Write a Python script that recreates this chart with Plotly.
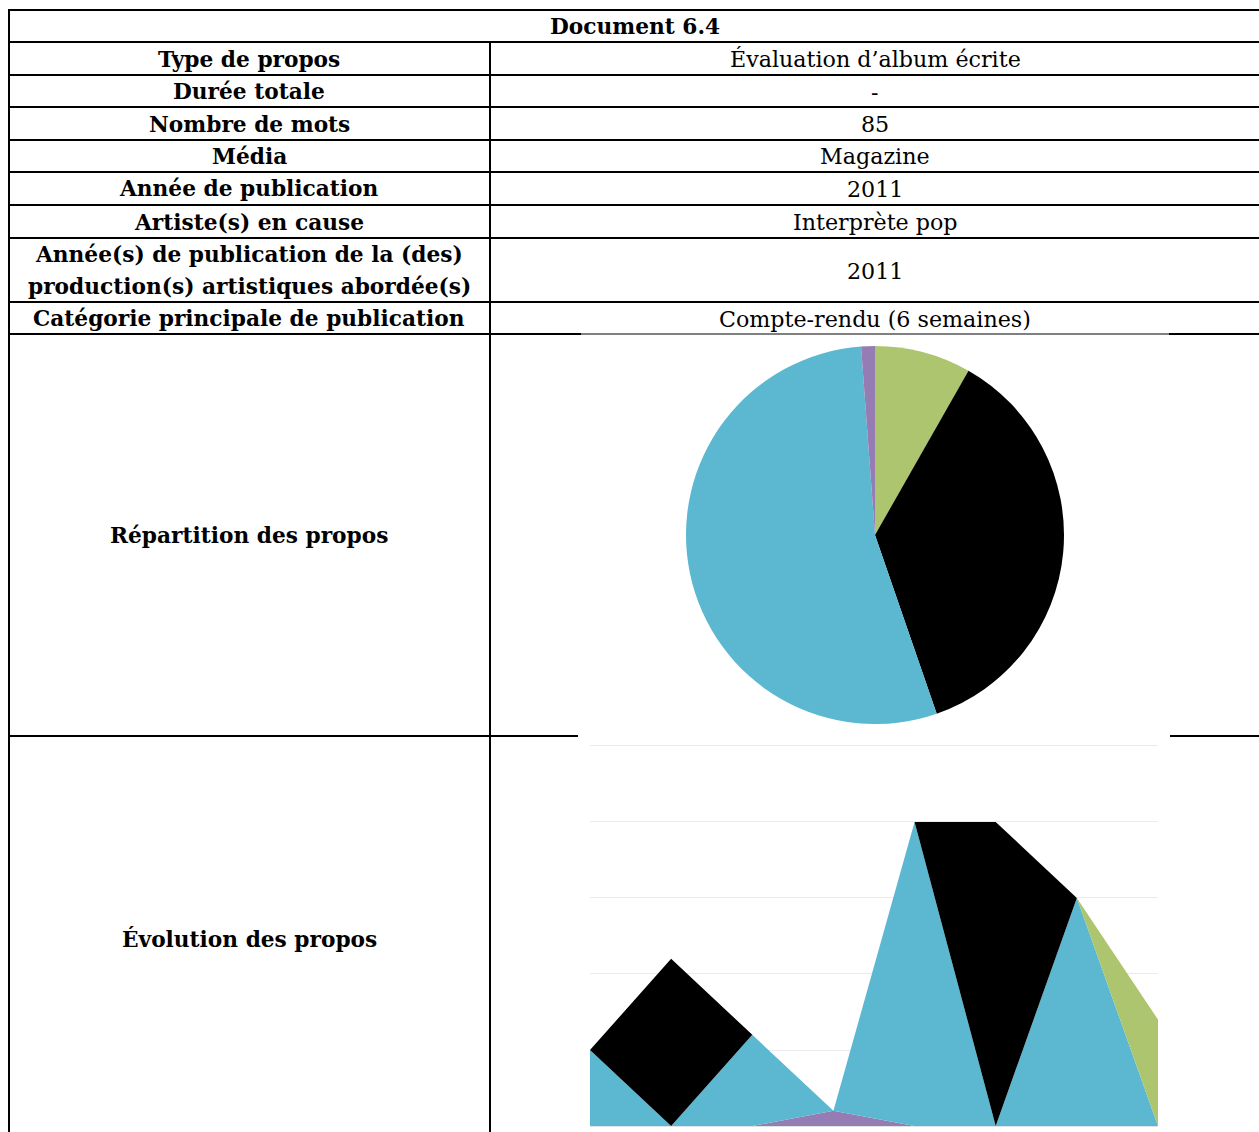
import plotly.graph_objects as go

# ---- table content ----
title = "Document 6.4"
row_labels = [
    "Type de propos",
    "Durée totale",
    "Nombre de mots",
    "Média",
    "Année de publication",
    "Artiste(s) en cause",
    ["Année(s) de publication de la (des)", "production(s) artistiques abordée(s)"],
    "Catégorie principale de publication",
]
row_values = [
    "Évaluation d’album écrite",
    "-",
    "85",
    "Magazine",
    "2011",
    "Interprète pop",
    "2011",
    "Compte-rendu (6 semaines)",
]
chart_labels = ["Répartition des propos", "Évolution des propos"]

# ---- word counts per segment of the text, one list per category ----
segments = [0, 1, 2, 3, 4, 5, 6, 7]
cat_names = ["Description", "Évaluation", "Contexte", "Comparaison"]
description = [5, 0, 6, 0, 20, 0, 15, 0]
evaluation = [0, 11, 0, 0, 0, 20, 0, 0]
contexte = [0, 0, 0, 1, 0, 0, 0, 0]
comparaison = [0, 0, 0, 0, 0, 0, 0, 7]

COL_DESC = "#5BB8D0"
COL_EVAL = "#000000"
COL_CTX = "#957CB3"
COL_COMP = "#ADC56E"

W, H = 1259, 1132
FONT = "DejaVu Serif"
FS_BOLD = 21.7
FS_REG = 22.2


def px(x):
    return x / W


def py(y):
    return 1 - y / H


fig = go.Figure()

# Pie: share of each category over the whole text
totals = [sum(comparaison), sum(evaluation), sum(description), sum(contexte)]
fig.add_trace(go.Pie(
    labels=[cat_names[3], cat_names[1], cat_names[0], cat_names[2]],
    values=totals,
    marker=dict(colors=[COL_COMP, COL_EVAL, COL_DESC, COL_CTX], line=dict(width=0)),
    sort=False,
    direction="clockwise",
    rotation=0,
    textinfo="none",
    showlegend=False,
    domain=dict(x=[px(875 - 189), px(875 + 189)], y=[py(724), py(346)]),
))

# Stacked areas: evolution through the text
for name, vals, col in [
    (cat_names[2], contexte, COL_CTX),
    (cat_names[0], description, COL_DESC),
    (cat_names[1], evaluation, COL_EVAL),
    (cat_names[3], comparaison, COL_COMP),
]:
    fig.add_trace(go.Scatter(
        x=segments, y=vals, name=name, mode="lines",
        stackgroup="evo", line=dict(width=0, color=col),
        fillcolor=col, showlegend=False,
        xaxis="x", yaxis="y",
    ))

fig.update_layout(
    width=W, height=H,
    margin=dict(l=0, r=0, t=0, b=0),
    paper_bgcolor="white", plot_bgcolor="white",
    xaxis=dict(domain=[px(590), px(1158)], range=[0, 7], showgrid=False,
               zeroline=False, showticklabels=False, ticks="",
               showline=True, linecolor="#DDE3E6", linewidth=1),
    yaxis=dict(domain=[py(1126), py(744)], range=[0, 25.13], dtick=5,
               showgrid=True, gridcolor="#EBEBEB", gridwidth=1,
               zeroline=False, showticklabels=False, ticks=""),
)

# ---- table grid ----
LW = 2
shapes = []


def hline(y, x0, x1, w=LW):
    shapes.append(dict(type="line", xref="paper", yref="paper",
                       x0=px(x0), x1=px(x1), y0=py(y), y1=py(y),
                       line=dict(color="black", width=w)))


def vline(x, y0, y1, w=LW):
    shapes.append(dict(type="line", xref="paper", yref="paper",
                       x0=px(x), x1=px(x), y0=py(y0), y1=py(y1),
                       line=dict(color="black", width=w)))


LEFT, MID, RIGHT = 9, 490, 1262
row_edges = [10, 42, 75, 107, 140, 172, 205, 238, 302, 334]
for y in row_edges[:-1]:
    hline(y, LEFT - 1, RIGHT)
hline(334, LEFT - 1, 581)
hline(334, 581, 1169, w=1)
hline(334, 1169, RIGHT)
hline(736, LEFT - 1, 578)
hline(736, 1170, RIGHT)
vline(LEFT, 9, H + 2)
vline(MID, 42, H + 2)
fig.update_layout(shapes=shapes)

# ---- table text ----
ann = []


def label(text, x, y, bold):
    ann.append(dict(
        text=("<b>%s</b>" % text) if bold else text,
        x=px(x), y=py(y), xref="paper", yref="paper", showarrow=False,
        xanchor="center", yanchor="middle",
        font=dict(family=FONT, size=FS_BOLD if bold else FS_REG, color="black"),
    ))


label(title, 635, 26.5, True)
for i, (lab, val) in enumerate(zip(row_labels, row_values)):
    top, bot = row_edges[i + 1], row_edges[i + 2]
    yc = (top + bot) / 2 + 0.5
    if isinstance(lab, list):
        label(lab[0], 249, yc - 16, True)
        label(lab[1], 249, yc + 16, True)
    else:
        label(lab, 249, yc, True)
    label(val, 875, yc, False)
label(chart_labels[0], 249, 535.5, True)
label(chart_labels[1], 249, 938.5, True)
fig.update_layout(annotations=ann)

fig.write_html("out.html")
